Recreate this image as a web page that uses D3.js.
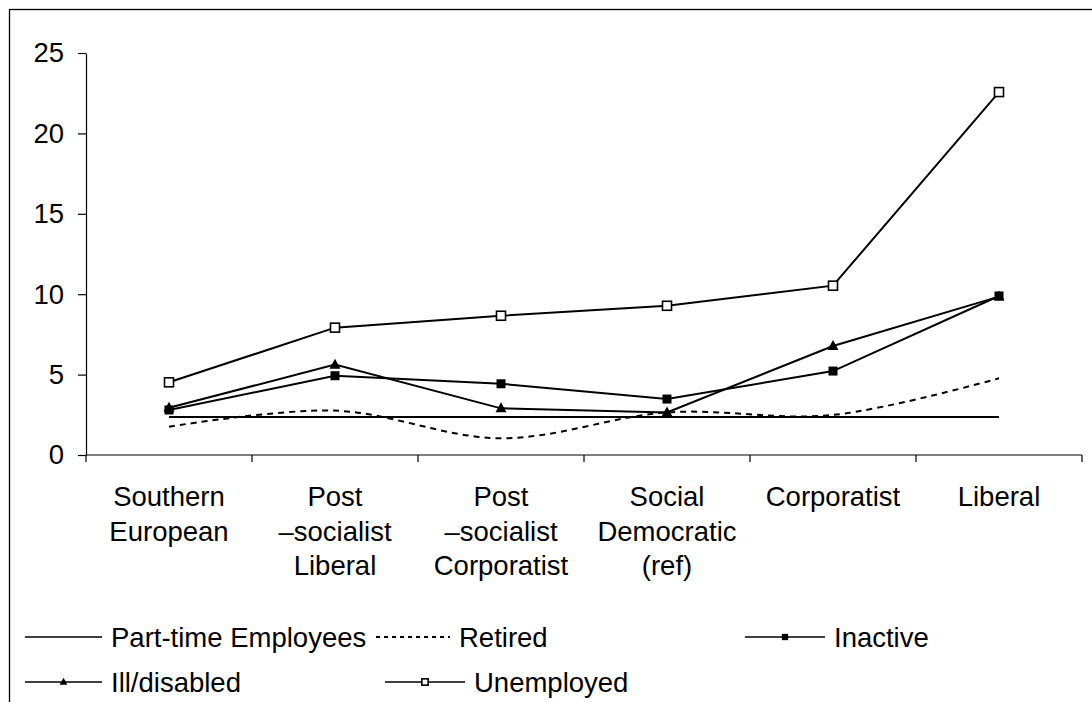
<!DOCTYPE html>
<html>
<head>
<meta charset="utf-8">
<script src="https://cdn.jsdelivr.net/npm/d3@7"></script>
<style>
  html, body { margin: 0; padding: 0; background: #fff; }
  svg { display: block; }
  text { font-family: "Liberation Sans", Arial, sans-serif; fill: #000; }
</style>
</head>
<body>
<svg id="chart" width="1092" height="702"></svg>
<script>
// ---- data ----
const categories = ["Southern European", "Post –socialist Liberal", "Post –socialist Corporatist", "Social Democratic (ref)", "Corporatist", "Liberal"];
const categoryLines = [["Southern", "European"], ["Post", "–socialist", "Liberal"], ["Post", "–socialist", "Corporatist"], ["Social", "Democratic", "(ref)"], ["Corporatist"], ["Liberal"]];
const yTicks = [0, 5, 10, 15, 20, 25];
const partTime = [2.36, 2.36, 2.36, 2.36, 2.36, 2.36];
const retired = [1.76, 2.76, 1.04, 2.65, 2.49, 4.77];
const inactive = [2.80, 4.93, 4.43, 3.48, 5.22, 9.89];
const ill = [2.94, 5.62, 2.90, 2.65, 6.78, 9.85];
const unemployed = [4.52, 7.92, 8.66, 9.28, 10.53, 22.57];

const series = [
  { name: "Part-time Employees", values: partTime, marker: "none", dash: null, smooth: false },
  { name: "Retired", values: retired, marker: "none", dash: "6,5", smooth: true },
  { name: "Inactive", values: inactive, marker: "square", dash: null, smooth: false },
  { name: "Ill/disabled", values: ill, marker: "triangle", dash: null, smooth: false },
  { name: "Unemployed", values: unemployed, marker: "open", dash: null, smooth: false }
];

// ---- layout ----
const svg = d3.select("#chart");
const FS = 27.5;

// outer frame (extends past the picture on the right and bottom)
svg.append("rect").attr("x", 9.5).attr("y", 9.5).attr("width", 1200).attr("height", 800)
  .attr("fill", "none").attr("stroke", "#000").attr("stroke-width", 1.3);

const x = d3.scaleBand().domain(categories).range([86, 1082]).padding(0);
const y = d3.scaleLinear().domain([0, 25]).range([455, 53]);
const cx = c => x(c) + x.bandwidth() / 2;

// y axis
const yAxis = svg.append("g").attr("transform", "translate(86,0)")
  .call(d3.axisLeft(y).tickValues(yTicks).tickSize(8).tickPadding(14).tickSizeOuter(0));
yAxis.select(".domain").attr("stroke", "#000").attr("stroke-width", 1.2);
yAxis.selectAll(".tick line").attr("stroke", "#000").attr("stroke-width", 1.2);
yAxis.selectAll(".tick text").attr("font-size", FS).attr("font-family", "Liberation Sans, Arial, sans-serif").attr("fill", "#000");

// x axis (ticks at band boundaries)
const xAxisG = svg.append("g").attr("transform", "translate(0,455)");
xAxisG.append("line").attr("x1", 86).attr("x2", 1082).attr("y1", 0).attr("y2", 0)
  .attr("stroke", "#000").attr("stroke-width", 1.2);
const boundaries = categories.map(c => x(c)).concat([x(categories[categories.length - 1]) + x.bandwidth()]);
xAxisG.selectAll("line.tk").data(boundaries).enter().append("line").attr("class", "tk")
  .attr("x1", d => d).attr("x2", d => d).attr("y1", 0).attr("y2", 7)
  .attr("stroke", "#000").attr("stroke-width", 1.2);

// category labels
const lab = svg.append("g");
categories.forEach((c, i) => {
  const t = lab.append("text").attr("text-anchor", "middle").attr("font-size", FS)
    .attr("x", cx(c)).attr("y", 506);
  categoryLines[i].forEach((ln, j) => {
    t.append("tspan").attr("x", cx(c)).attr("y", 506 + j * 34.5).text(ln);
  });
});

// markers
function drawMarker(g, type, px, py, scale) {
  const s = scale || 1;
  if (type === "square") {
    const w = 9 * s;
    g.append("rect").attr("x", px - w / 2).attr("y", py - w / 2).attr("width", w).attr("height", w).attr("fill", "#000");
  } else if (type === "open") {
    const w = 9 * s;
    g.append("rect").attr("x", px - w / 2).attr("y", py - w / 2).attr("width", w).attr("height", w)
      .attr("fill", "#fff").attr("stroke", "#000").attr("stroke-width", 1.6);
  } else if (type === "triangle") {
    const w = 11 * s, h = 10 * s;
    g.append("path").attr("d", `M${px},${py - h * 0.6} L${px + w / 2},${py + h * 0.4} L${px - w / 2},${py + h * 0.4} Z`).attr("fill", "#000");
  }
}

// lines
const plot = svg.append("g");
series.forEach(s => {
  const pts = s.values.map((v, i) => [cx(categories[i]), y(v)]);
  const line = d3.line().curve(s.smooth ? d3.curveCatmullRom.alpha(0) : d3.curveLinear);
  plot.append("path").attr("d", line(pts)).attr("fill", "none").attr("stroke", "#000")
    .attr("stroke-width", 2).attr("stroke-dasharray", s.dash);
});
series.forEach(s => {
  if (s.marker === "none") return;
  s.values.forEach((v, i) => drawMarker(plot, s.marker, cx(categories[i]), y(v), 1));
});

// legend
const legendPos = [
  { lx: 25, ly: 637, len: 77 },
  { lx: 376, ly: 637, len: 74 },
  { lx: 745, ly: 637, len: 80 },
  { lx: 25, ly: 682, len: 77 },
  { lx: 385, ly: 682, len: 80 }
];
const leg = svg.append("g");
series.forEach((s, i) => {
  const p = legendPos[i];
  leg.append("line").attr("x1", p.lx).attr("x2", p.lx + p.len).attr("y1", p.ly).attr("y2", p.ly)
    .attr("stroke", "#000").attr("stroke-width", s.dash ? 2 : 1.6).attr("stroke-dasharray", s.dash ? "4,4" : null);
  drawMarker(leg, s.marker, p.lx + p.len / 2, p.ly, 0.7);
  leg.append("text").attr("x", p.lx + p.len + 9).attr("y", p.ly + 10).attr("font-size", FS).text(s.name);
});
</script>
</body>
</html>
